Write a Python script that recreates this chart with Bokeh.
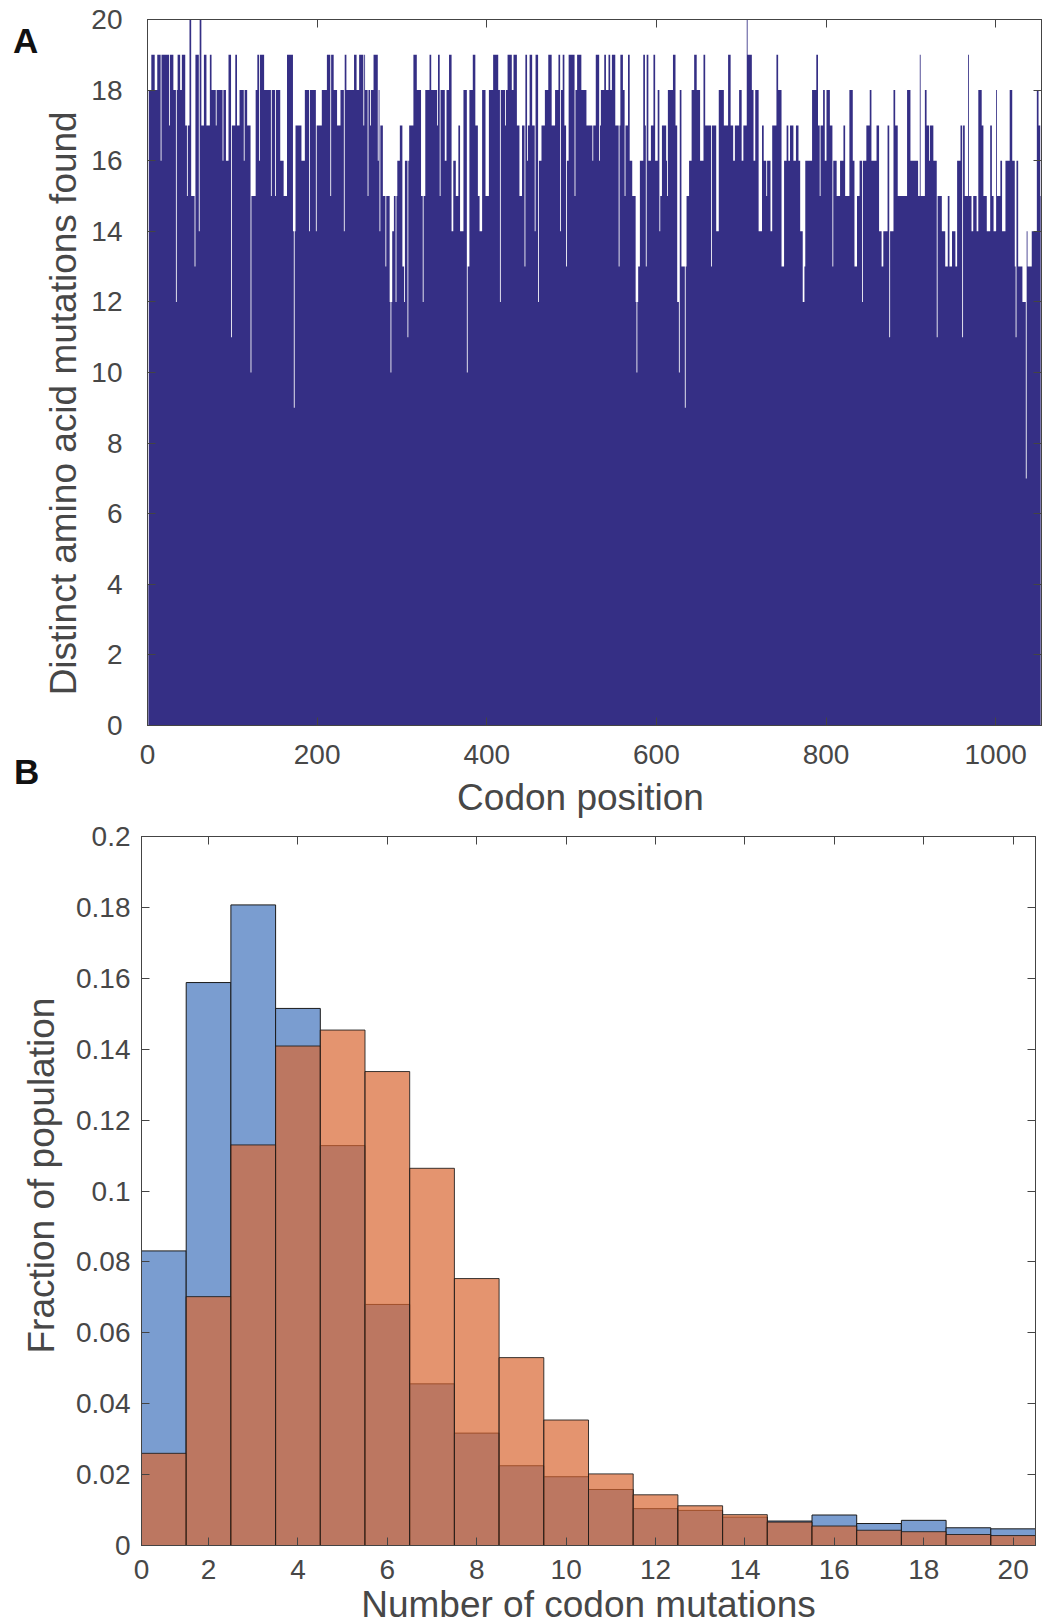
import numpy as np
from bokeh.plotting import figure
from bokeh.models import (LinearAxis, FixedTicker, Range1d, Label, PrintfTickFormatter,
                          CustomJSTickFormatter)
from bokeh.layouts import column
from bokeh.embed import file_html
from bokeh.resources import INLINE

# ---------------- Panel A data: (last codon of run, distinct amino-acid mutations) ----------------
runs_a1 = [(1,4),(4,18),(8,19),(11,18),(15,19),(16,16),(25,19),(26,17),(30,19),(33,18),(34,12),(35,18),
           (38,19),(40,18),(44,19),(46,17),(47,15),(49,17),(51,20),(55,15),(56,13),(60,19),(61,14),(63,20),
           (66,17),(69,19),(73,17),(75,19),(80,18),(81,17),(88,18),(89,16),(92,18),(95,16),(98,19),(99,11),
           (103,17),(105,19),(108,17),(113,18),(114,16),(117,18),(121,17),(122,10),(127,15),(129,18),(131,19),
           (132,16),(137,19),(145,18),(146,15),(150,18),(151,15),(156,18),(160,16),(164,15),(171,19),(172,14),
           (173,9),(174,14),(181,17),(185,16),(190,18),(191,14),(198,18),(199,14),(205,17),(211,18),(215,19),
           (216,15),(219,19),(223,18),(227,17),(231,18),(232,14),(234,19),(243,18),(246,19),(249,18),(251,19)]
runs_a2 = [(254,19),(255,17),(256,19),(259,18),(260,15),(262,18),(263,17),(266,18),(271,19),(272,16),(273,18),
           (274,14),(277,17),(280,15),(281,13),(285,15),(286,12),(287,10),(288,12),(290,14),(292,15),(293,12),
           (294,15),(297,16),(300,17),(302,13),(303,12),(306,16),(307,11),(308,16),(313,17),(317,19),(322,18),
           (324,15),(325,12),(327,15),(332,18),(334,19),(341,18),(342,17),(344,19),(345,15),(350,18),(352,16),
           (355,18),(358,19),(360,14),(363,16),(366,15),(368,17),(372,14),(376,18),(377,10),(379,13),(383,18),
           (386,19),(389,17),(391,15),(394,14),(398,18),(402,15),(407,18),(413,19),(415,18),(416,12),(421,18),
           (422,17),(424,18),(429,19),(431,18),(435,19),(438,17),(441,15),(444,17),(445,13),(447,19),(448,16),
           (450,17),(453,19),(456,17),(457,14),(460,19),(461,12),(464,16),(468,17),(472,18),(476,19),(480,17),
           (484,18),(486,19),(487,14),(489,18),(491,19),(493,17),(494,13),(496,16),(503,19),(504,15),(506,18),
           (511,19),(517,18),(521,17)]
runs_a3 = [(524,17),(525,16),(528,17),(532,19),(533,16),(534,17),(538,18),(540,19),(543,18),(545,19),(547,18),
           (551,19),(555,17),(556,13),(557,17),(560,19),(562,18),(563,15),(566,17),(568,19),(571,16),(575,15),
           (576,12),(577,10),(578,12),(580,13),(584,16),(586,19),(587,17),(588,13),(590,19),(593,16),(596,17),
           (598,19),(601,16),(603,18),(604,14),(606,15),(611,17),(612,16),(613,15),(619,18),(622,19),(624,17),
           (626,12),(627,10),(629,18),(633,13),(634,9),(635,13),(638,15),(641,16),(644,18),(647,19),(651,18),
           (655,16),(657,19),(664,17),(665,13),(670,17),(673,14),(679,18),(684,17),(687,19),(690,17),(692,16),
           (697,17),(700,18),(702,16),(706,17),(707,20),(712,19),(714,18),(716,16),(720,18),(724,14),(726,17),
           (729,16),(730,15),(734,16),(736,14),(741,17),(743,19),(747,18),(750,13),(753,16),(755,17),(757,16),
           (761,17),(764,16),(767,17),(769,16),(772,14),(774,12),(775,13),(781,16)]
runs_a4 = [(783,16),(788,18),(790,19),(792,17),(793,15),(796,17),(798,18),(800,16),(804,18),(807,17),(808,13),
           (812,16),(816,15),(820,16),(822,17),(827,15),(831,18),(833,16),(836,13),(839,15),(842,16),(843,12),
           (847,16),(851,17),(853,18),(859,16),(862,17),(865,14),(867,13),(872,14),(874,17),(875,11),(879,14),
           (881,18),(884,17),(895,15),(899,18),(908,16),(910,15),(911,19),(916,15),(918,18),(921,17),(922,16),
           (926,17),(930,16),(931,11),(936,15),(940,14),(943,13),(945,15),(948,13),(952,14),(954,13),(958,16),
           (960,17),(961,11),(963,17),(967,15),(968,19),(971,15),(973,14),(977,15),(979,14),(983,18),(985,17),
           (989,15),(993,14),(995,17),(997,15),(1000,14),(1001,18),(1005,15),(1007,16),(1011,14),(1016,16),
           (1019,18),(1022,16),(1023,13),(1024,11),(1026,16),(1031,13),(1035,12),(1036,7),(1037,14),(1042,13),
           (1048,14),(1050,18),(1052,17),(1053,15)]

a_xticks = [0, 200, 400, 600, 800, 1000]
a_yticks = [0, 2, 4, 6, 8, 10, 12, 14, 16, 18, 20]

# ---------------- Panel B data ----------------
bin_centers = list(range(1, 21))
frac_blue = [0.0831, 0.1588, 0.1807, 0.1515, 0.1128, 0.0680, 0.0456, 0.0317, 0.0225, 0.0194,
             0.0158, 0.0104, 0.0099, 0.0080, 0.0069, 0.0086, 0.0062, 0.0071, 0.0050, 0.0047]
frac_orange = [0.0260, 0.0702, 0.1130, 0.1409, 0.1454, 0.1337, 0.1064, 0.0753, 0.0530, 0.0354,
               0.0202, 0.0143, 0.0112, 0.0087, 0.0066, 0.0055, 0.0043, 0.0039, 0.0031, 0.0028]
b_xticks = [0.5, 2, 4, 6, 8, 10, 12, 14, 16, 18, 20]
b_xtick_labels = {0.5: "0"}
b_yticks = [0, 0.02, 0.04, 0.06, 0.08, 0.1, 0.12, 0.14, 0.16, 0.18, 0.2]

# ---------------- styling ----------------
FONT = "Liberation Sans"
TXT = "#474747"
AXC = "#444444"
NAVY = "#352F85"
BLUE = "#7A9DD0"
ORANGE = "#D86632"
NBSP = "\u00a0"


def style_axis(ax, tick_size, standoff, show_labels=True):
    ax.axis_line_color = AXC
    ax.axis_line_width = 1
    ax.major_tick_line_color = AXC
    ax.major_tick_in = 8
    ax.major_tick_out = 0
    ax.minor_tick_line_color = None
    ax.major_label_text_font = FONT
    ax.major_label_text_color = TXT
    ax.major_label_text_font_size = tick_size
    ax.axis_label_text_font = FONT
    ax.axis_label_text_color = TXT
    ax.axis_label_text_font_style = "normal"
    ax.axis_label_text_font_size = "37px"
    ax.major_label_standoff = standoff
    if not show_labels:
        ax.formatter = CustomJSTickFormatter(code="return ''")


def canvas_text(p, text, x, y, side, size, bold=False, color=TXT, align="left"):
    lab = Label(x=x, y=y, x_units="canvas", y_units="canvas", text=text,
                text_font=FONT, text_font_style="bold" if bold else "normal",
                text_font_size=size, text_color=color, text_baseline="alphabetic",
                text_align=align)
    p.add_layout(lab, side)


# ---------------- Panel A ----------------
runs = runs_a1 + runs_a2 + runs_a3 + runs_a4
ends = np.array([r[0] for r in runs])
vals = np.array([r[1] for r in runs])
counts = np.diff(np.concatenate([[0], ends]))
values = np.repeat(vals, counts)
codon = np.arange(1, len(values) + 1)

pA = figure(frame_width=894, frame_height=706, x_range=Range1d(0, len(values) + 1), y_range=Range1d(0, 20),
            output_backend="svg", toolbar_location=None, frame_align=False,
            min_border_left=147, min_border_right=3, min_border_top=19, min_border_bottom=95)
pA.varea_step(x=codon, y1=np.zeros(len(values)), y2=values, step_mode="center", fill_color=NAVY)
pA.xgrid.visible = False
pA.ygrid.visible = False
pA.outline_line_color = AXC

pA.xaxis.ticker = FixedTicker(ticks=a_xticks)
pA.yaxis.ticker = FixedTicker(ticks=a_yticks)
style_axis(pA.xaxis[0], "28px", 19)
style_axis(pA.yaxis[0], "28px", 25)
pA.yaxis.axis_label = "Distinct amino acid mutations found" + NBSP * 6
pA.yaxis.axis_label_standoff = 4
topA = LinearAxis(ticker=FixedTicker(ticks=a_xticks))
rightA = LinearAxis(ticker=FixedTicker(ticks=a_yticks))
style_axis(topA, "10px", 0, False)
style_axis(rightA, "10px", 0, False)
pA.add_layout(topA, "above")
pA.add_layout(rightA, "right")

# x-axis title of panel A sits left of the frame centre in the original
canvas_text(pA, "Codon position", 580, 797, "below", "37px", align="center")
# panel letters
canvas_text(pA, "A", 12.5, 40, "right", "35px", bold=True, color="#111111")
canvas_text(pA, "B", 13.5, 771, "right", "35px", bold=True, color="#111111")

# ---------------- Panel B ----------------
centers = np.array(bin_centers, dtype=float)
pB = figure(frame_width=894, frame_height=709, x_range=Range1d(0.5, 20.5), y_range=Range1d(0, 0.2),
            output_backend="svg", toolbar_location=None, frame_align=False,
            min_border_left=141, min_border_right=9, min_border_top=16, min_border_bottom=77)
pB.quad(left=centers - 0.5, right=centers + 0.5, bottom=0, top=frac_blue,
        fill_color=BLUE, line_color="#1a1a1a", line_width=1)
pB.quad(left=centers - 0.5, right=centers + 0.5, bottom=0, top=frac_orange,
        fill_color=ORANGE, fill_alpha=0.7, line_color="#1a1a1a", line_alpha=0.85, line_width=1)
pB.xgrid.visible = False
pB.ygrid.visible = False
pB.outline_line_color = AXC

pB.xaxis.ticker = FixedTicker(ticks=b_xticks)
pB.xaxis.major_label_overrides = b_xtick_labels
pB.yaxis.ticker = FixedTicker(ticks=b_yticks)
pB.yaxis.formatter = PrintfTickFormatter(format="%g")
style_axis(pB.xaxis[0], "28px", 14)
style_axis(pB.yaxis[0], "28px", 11)
pB.xaxis.axis_label = "Number of codon mutations"
pB.xaxis.axis_label_standoff = 2
pB.yaxis.axis_label = NBSP * 3 + "Fraction of population"
pB.yaxis.axis_label_standoff = 11
topB = LinearAxis(ticker=FixedTicker(ticks=b_xticks[1:]))
rightB = LinearAxis(ticker=FixedTicker(ticks=b_yticks))
style_axis(topB, "10px", 0, False)
style_axis(rightB, "10px", 0, False)
pB.add_layout(topB, "above")
pB.add_layout(rightB, "right")

layout = column(pA, pB, spacing=0)
open("out.html", "w").write(file_html(layout, INLINE))
